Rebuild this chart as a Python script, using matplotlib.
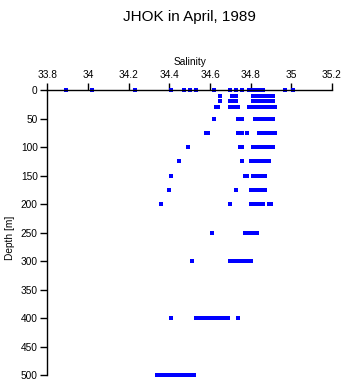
import matplotlib
matplotlib.use("Agg")
import matplotlib.pyplot as plt

plt.rcParams['font.family'] = ['Liberation Sans', 'DejaVu Sans']

# salinity readings at each sampled depth [m]
s_0 = [33.89, 34.02, 34.23, 34.41, 34.47, 34.50, 34.53, 34.62, 34.70, 34.73, 34.76,
       34.79, 34.81, 34.82, 34.83, 34.85, 34.86, 34.97, 35.01]
s_10 = [34.65, 34.71, 34.73, 34.81, 34.82, 34.83, 34.84, 34.85, 34.86, 34.87, 34.88,
        34.89, 34.90, 34.91]
s_20 = [34.65, 34.70, 34.71, 34.73, 34.81, 34.82, 34.83, 34.84, 34.85, 34.86, 34.87,
        34.89, 34.90, 34.91]
s_30 = [34.63, 34.64, 34.70, 34.71, 34.73, 34.74, 34.79, 34.80, 34.82, 34.83, 34.84,
        34.85, 34.86, 34.88, 34.89, 34.90, 34.91, 34.92]
s_50 = [34.62, 34.74, 34.76, 34.82, 34.83, 34.84, 34.85, 34.86, 34.88, 34.89, 34.90, 34.91]
s_75 = [34.58, 34.59, 34.74, 34.76, 34.78, 34.84, 34.85, 34.86, 34.87, 34.88, 34.89,
        34.91, 34.92]
s_100 = [34.49, 34.75, 34.76, 34.81, 34.82, 34.83, 34.84, 34.85, 34.86, 34.87, 34.88,
         34.89, 34.90, 34.91]
s_125 = [34.45, 34.76, 34.80, 34.81, 34.82, 34.83, 34.84, 34.85, 34.86, 34.87, 34.88, 34.89]
s_150 = [34.41, 34.77, 34.78, 34.81, 34.82, 34.83, 34.84, 34.85, 34.86, 34.87]
s_175 = [34.40, 34.73, 34.80, 34.81, 34.82, 34.83, 34.84, 34.85, 34.86, 34.87]
s_200 = [34.36, 34.70, 34.80, 34.81, 34.82, 34.83, 34.84, 34.85, 34.86, 34.89, 34.90]
s_250 = [34.61, 34.77, 34.78, 34.79, 34.80, 34.81, 34.82, 34.83]
s_300 = [34.51, 34.70, 34.71, 34.72, 34.73, 34.74, 34.75, 34.76, 34.77, 34.78, 34.79, 34.80]
s_400 = [34.41, 34.53, 34.54, 34.55, 34.56, 34.57, 34.58, 34.59, 34.60, 34.61, 34.62,
         34.63, 34.65, 34.67, 34.68, 34.69, 34.74]
s_500 = [34.34, 34.35, 34.36, 34.37, 34.38, 34.39, 34.40, 34.41, 34.42, 34.43, 34.44,
         34.45, 34.46, 34.47, 34.48, 34.49, 34.50, 34.51, 34.52]

depths = [0, 10, 20, 30, 50, 75, 100, 125, 150, 175, 200, 250, 300, 400, 500]
salinity = [s_0, s_10, s_20, s_30, s_50, s_75, s_100, s_125, s_150, s_175, s_200,
            s_250, s_300, s_400, s_500]

x_ticks = [33.8, 34, 34.2, 34.4, 34.6, 34.8, 35, 35.2]
y_ticks = [0, 50, 100, 150, 200, 250, 300, 350, 400, 450, 500]

x = []
y = []
for d, s in zip(depths, salinity):
    for v in s:
        x.append(v)
        y.append(d)

fig = plt.figure(figsize=(3.46, 3.84), dpi=100)
ax = fig.add_axes([0.137, 0.0234, 0.8222, 0.7422])

ax.plot(x, y, "s", color="#0000ff", markersize=2.3, markeredgewidth=0, clip_on=False)

ax.set_xlim(33.8, 35.2)
ax.set_ylim(500, 0)
ax.set_xticks(x_ticks)
ax.set_xticklabels([f"{t:g}" for t in x_ticks])
ax.set_yticks(y_ticks)
ax.xaxis.tick_top()
ax.xaxis.set_label_position("top")
ax.spines["right"].set_visible(False)
ax.spines["bottom"].set_visible(False)
for sp in ["top", "left"]:
    ax.spines[sp].set_linewidth(1)
ax.tick_params(direction="out", length=5, width=1, labelsize=7.3, pad=2)
ax.set_xlabel("Salinity", fontsize=7.3, labelpad=4)
ax.set_ylabel("Depth [m]", fontsize=7.3, labelpad=3)
ax.yaxis.set_label_coords(-0.115, 0.48)

fig.text(0.548, 0.955, "JHOK in April, 1989", ha="center", va="center", fontsize=11)

fig.savefig("out.png", dpi=100)
